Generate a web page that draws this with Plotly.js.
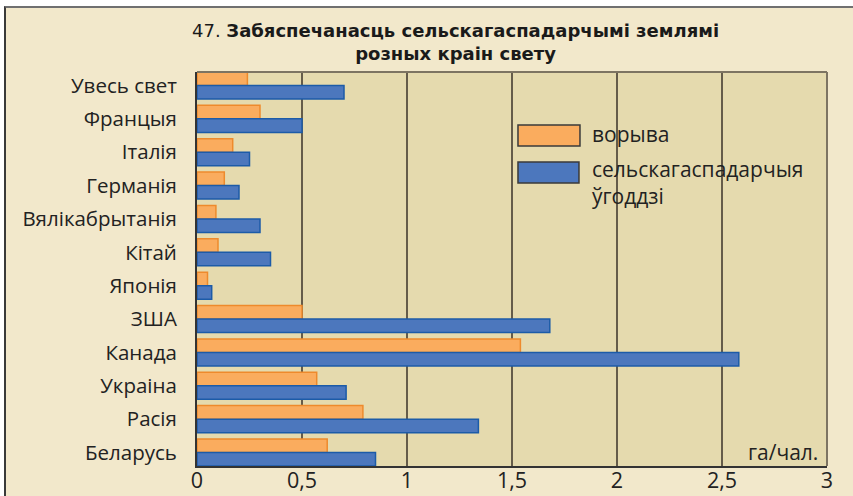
<!DOCTYPE html>
<html>
<head>
<meta charset="utf-8">
<script src="https://cdn.plot.ly/plotly-3.0.1.min.js"></script>
<style>
  html, body { margin:0; padding:0; background:#ffffff; }
  #bg { position:absolute; left:4px; top:6px; width:849px; height:490px; background:#F2E8CB;
        border-left:2px solid #3a3a3a; border-top:2px solid #707070; box-sizing:border-box; }
  #chart { position:absolute; left:0; top:0; width:853px; height:496px; }
</style>
</head>
<body>
<div id="bg"></div>
<div id="chart"></div>
<script>
const categories = ["Увесь свет","Францыя","Італія","Германія","Вялікабрытанія","Кітай","Японія","ЗША","Канада","Украіна","Расія","Беларусь"];
const arable = [0.24, 0.30, 0.17, 0.13, 0.09, 0.10, 0.05, 0.50, 1.54, 0.57, 0.79, 0.62];
const agricultural = [0.70, 0.50, 0.25, 0.20, 0.30, 0.35, 0.07, 1.68, 2.58, 0.71, 1.34, 0.85];
const seriesNames = ["ворыва", "сельскагаспадарчыя<br>ўгоддзі"];
const xTicks = [0, 0.5, 1, 1.5, 2, 2.5, 3];
const unitLabel = "га/чал.";
const titleText = '47. <b>Забяспечанасць сельскагаспадарчымі землямі</b><br><b>розных краін свету</b>';

const font = "Open Sans, DejaVu Sans, sans-serif";
const titleFont = "DejaVu Sans, sans-serif";

const traces = [
  { type:'bar', orientation:'h', y:categories, x:arable, name:seriesNames[0],
    marker:{ color:'#FAAC5E', line:{ color:'#EE8A2C', width:1.5 } }, showlegend:false, hoverinfo:'x+y' },
  { type:'bar', orientation:'h', y:categories, x:agricultural, name:seriesNames[1],
    marker:{ color:'#4C77BD', line:{ color:'#1C5BA8', width:1.5 } }, showlegend:false, hoverinfo:'x+y' }
];

const layout = {
  width:853, height:496,
  margin:{ l:197, r:26, t:72, b:30, pad:0 },
  paper_bgcolor:'rgba(0,0,0,0)',
  plot_bgcolor:'#E5DAAE',
  separators:', ',
  barmode:'group', bargap:0.19, bargroupgap:0,
  xaxis:{
    range:[0,3], tickvals:xTicks, ticks:'', showgrid:true, gridcolor:'#655c4a', gridwidth:1.5,
    zeroline:false, showline:true, linecolor:'#333333', linewidth:2, ticklabelstandoff:-6,
    tickfont:{ family:font, size:21.5, color:'#222' }, fixedrange:true
  },
  yaxis:{
    type:'category', range:[11.405, -0.405], ticks:'', showgrid:false, zeroline:false,
    showline:true, linecolor:'#333333', linewidth:2, ticklabelstandoff:14,
    tickfont:{ family:font, size:20.5, color:'#222' }, fixedrange:true
  },
  shapes:[
    { type:'line', xref:'paper', yref:'paper', x0:0, x1:1, y0:1, y1:1, line:{ color:'#7d7462', width:2 }, layer:'above' },
    { type:'line', xref:'paper', yref:'paper', x0:1, x1:1, y0:0, y1:1, line:{ color:'#7d7462', width:2 }, layer:'above' },
    { type:'rect', xref:'paper', yref:'paper', x0:0.5095, x1:0.6079, y0:0.8122, y1:0.8655,
      fillcolor:'#FAAC5E', line:{ color:'#3a3a3a', width:1.5 }, layer:'above' },
    { type:'rect', xref:'paper', yref:'paper', x0:0.5095, x1:0.6063, y0:0.7183, y1:0.7716,
      fillcolor:'#4C77BD', line:{ color:'#3a3a3a', width:1.5 }, layer:'above' }
  ],
  annotations:[
    { xref:'paper', yref:'paper', x:(455-197)/630, y:(466-42.5)/394, xanchor:'center', yanchor:'middle', showarrow:false,
      text:titleText, align:'center', font:{ family:titleFont, size:18, color:'#1a1a1a' } },
    { xref:'paper', yref:'paper', x:0.6238, y:0.8426, xanchor:'left', yanchor:'middle', showarrow:false,
      text:seriesNames[0], align:'left', font:{ family:font, size:21, color:'#222' } },
    { xref:'paper', yref:'paper', x:0.6238, y:0.7183, xanchor:'left', yanchor:'middle', showarrow:false,
      text:seriesNames[1], align:'left', font:{ family:font, size:21, color:'#222' } },
    { xref:'paper', yref:'paper', x:0.9889, y:0.0355, xanchor:'right', yanchor:'middle', showarrow:false,
      text:unitLabel, font:{ family:font, size:21, color:'#222' } }
  ]
};

Plotly.newPlot('chart', traces, layout, { displayModeBar:false, staticPlot:true });
</script>
</body>
</html>
